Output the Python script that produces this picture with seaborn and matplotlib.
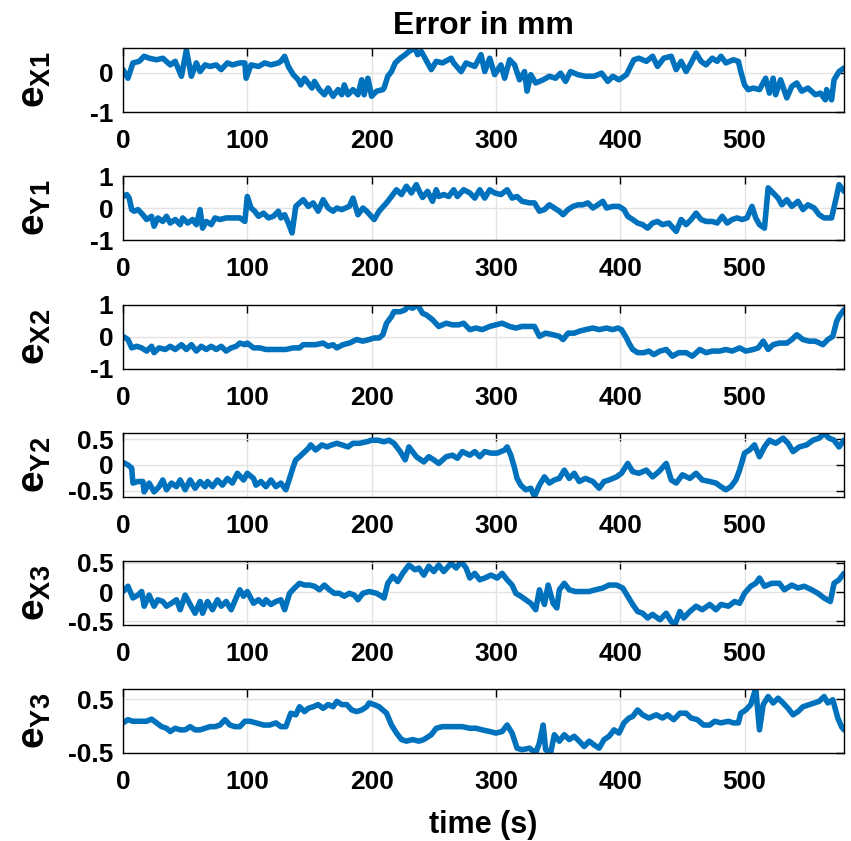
import matplotlib
matplotlib.use("Agg")
import matplotlib.pyplot as plt
from matplotlib.ticker import FormatStrFormatter
import seaborn as sns

# ---- time (s) / error (mm) traces for each coordinate ----
t_x1 = [0, 4, 8, 13, 17, 21, 27, 32, 38, 42, 47, 51, 55, 59, 62, 66, 70, 75, 79, 84, 88, 94, 98, 99,
        103, 109, 114, 119, 125, 127, 130, 133, 137, 141, 143, 146, 152, 154, 158, 162, 165, 169, 173,
        176, 178, 181, 185, 189, 192, 194, 197, 200, 204, 209, 210, 213, 216, 219, 223, 227, 230, 235,
        237, 240, 243, 245, 248, 252, 257, 264, 266, 272, 276, 283, 288, 291, 295, 299, 304, 307, 311,
        315, 319, 323, 325, 328, 332, 338, 343, 348, 352, 356, 360, 366, 372, 379, 385, 390, 394, 399,
        405, 407, 411, 415, 421, 426, 430, 435, 441, 445, 449, 453, 457, 461, 465, 469, 474, 478, 481,
        485, 491, 495, 497, 500, 503, 507, 512, 517, 520, 523, 525, 529, 534, 538, 542, 546, 551, 557,
        561, 565, 566, 570, 572, 576, 580]
e_x1 = [0.08, -0.14, 0.25, 0.29, 0.42, 0.37, 0.33, 0.37, 0.20, 0.29, -0.09, 0.58, -0.09, 0.25, 0.03, 0.20,
        0.16, 0.20, 0.08, 0.25, 0.20, 0.25, 0.25, -0.14, 0.20, 0.16, 0.25, 0.20, 0.25, 0.29, 0.42, 0.16,
        -0.05, -0.18, -0.31, -0.14, -0.39, -0.22, -0.43, -0.56, -0.39, -0.60, -0.43, -0.56, -0.31, -0.56,
        -0.43, -0.56, -0.18, -0.56, -0.14, -0.60, -0.47, -0.43, -0.39, -0.09, 0.03, 0.25, 0.37, 0.46, 0.54,
        0.63, 0.46, 0.54, 0.37, 0.25, 0.08, 0.29, 0.25, 0.37, 0.25, 0.03, 0.25, 0.16, 0.46, 0.03, 0.37,
        -0.05, 0.20, -0.14, 0.33, 0.20, -0.18, 0.03, -0.47, -0.05, -0.26, -0.18, -0.09, -0.14, -0.01, -0.22,
        0.03, -0.05, -0.09, -0.09, -0.01, -0.22, -0.09, -0.18, -0.05, 0.08, 0.33, 0.37, 0.29, 0.42, 0.16,
        0.37, 0.42, 0.08, 0.29, 0.03, 0.25, 0.50, 0.29, 0.20, 0.37, 0.29, 0.42, 0.25, 0.33, 0.29, 0.03,
        -0.31, -0.43, -0.39, -0.43, -0.14, -0.52, -0.14, -0.56, -0.18, -0.64, -0.35, -0.26, -0.47, -0.39,
        -0.56, -0.52, -0.69, -0.43, -0.69, -0.18, 0.03, 0.12]

t_y1 = [0, 3, 5, 7, 9, 12, 16, 19, 23, 25, 28, 32, 35, 38, 42, 46, 48, 52, 56, 59, 62, 64, 67, 71, 74, 78,
        83, 88, 94, 98, 100, 103, 106, 109, 113, 117, 121, 125, 127, 130, 133, 136, 139, 142, 145, 149,
        153, 157, 161, 165, 169, 172, 176, 182, 185, 189, 193, 196, 202, 206, 212, 216, 220, 224, 228,
        232, 236, 239, 241, 245, 249, 252, 254, 258, 262, 266, 269, 274, 279, 283, 287, 291, 295, 299,
        304, 309, 313, 317, 321, 327, 331, 335, 339, 343, 347, 351, 354, 358, 362, 366, 370, 374, 378,
        382, 386, 389, 394, 399, 403, 406, 410, 414, 418, 422, 426, 430, 434, 439, 445, 449, 453, 457,
        461, 465, 469, 474, 478, 482, 486, 490, 494, 498, 502, 506, 509, 512, 516, 519, 523, 527, 530,
        534, 538, 543, 547, 551, 556, 560, 564, 570, 574, 576, 580]
e_y1 = [0.36, 0.42, 0.31, -0.05, -0.10, -0.05, -0.21, -0.36, -0.26, -0.57, -0.31, -0.42, -0.26, -0.47,
        -0.36, -0.52, -0.31, -0.47, -0.36, -0.52, -0.05, -0.63, -0.42, -0.52, -0.31, -0.36, -0.31, -0.31,
        -0.31, -0.42, 0.36, 0.00, -0.10, -0.26, -0.16, -0.31, -0.26, -0.10, -0.31, -0.21, -0.47, -0.78,
        0.05, 0.16, 0.26, 0.05, 0.16, -0.10, 0.26, 0.00, -0.10, 0.00, -0.05, 0.05, 0.31, -0.21, 0.00,
        -0.10, -0.36, -0.10, 0.16, 0.36, 0.57, 0.42, 0.68, 0.47, 0.73, 0.47, 0.33, 0.52, 0.21, 0.57, 0.36,
        0.42, 0.36, 0.57, 0.36, 0.57, 0.47, 0.31, 0.57, 0.31, 0.57, 0.47, 0.42, 0.57, 0.31, 0.36, 0.21,
        0.16, 0.16, -0.10, -0.05, 0.10, 0.00, -0.10, -0.21, -0.05, 0.05, 0.10, 0.10, 0.16, 0.00, 0.10,
        0.21, 0.00, 0.05, 0.05, -0.05, -0.26, -0.36, -0.47, -0.52, -0.63, -0.47, -0.42, -0.52, -0.47,
        -0.73, -0.36, -0.52, -0.36, -0.16, -0.36, -0.42, -0.42, -0.47, -0.26, -0.47, -0.36, -0.31, -0.36,
        -0.31, 0.05, -0.31, -0.52, -0.63, 0.63, 0.47, 0.31, 0.10, 0.26, 0.05, 0.21, -0.05, 0.10, 0.00,
        -0.21, -0.31, -0.31, 0.36, 0.73, 0.52]

t_x2 = [0, 4, 7, 11, 15, 19, 23, 25, 29, 34, 38, 42, 47, 51, 55, 59, 63, 67, 71, 75, 79, 83, 87, 91, 94,
        98, 100, 105, 110, 115, 121, 126, 131, 137, 142, 145, 150, 155, 161, 165, 169, 172, 177, 182,
        188, 193, 198, 202, 206, 209, 212, 216, 218, 223, 227, 229, 233, 237, 241, 244, 249, 254, 260,
        265, 270, 274, 279, 284, 289, 295, 300, 305, 311, 316, 321, 327, 331, 335, 340, 346, 351, 354,
        358, 363, 367, 372, 378, 383, 389, 394, 398, 401, 405, 407, 410, 414, 419, 423, 427, 432, 437,
        442, 447, 453, 458, 464, 469, 474, 480, 485, 490, 496, 501, 507, 511, 515, 519, 523, 528, 534,
        538, 542, 547, 552, 557, 563, 567, 571, 574, 576, 580]
e_x2 = [0.02, -0.08, -0.34, -0.29, -0.34, -0.44, -0.29, -0.49, -0.34, -0.39, -0.29, -0.39, -0.24, -0.39,
        -0.24, -0.44, -0.29, -0.39, -0.29, -0.39, -0.29, -0.44, -0.34, -0.29, -0.19, -0.24, -0.19, -0.34,
        -0.34, -0.39, -0.39, -0.39, -0.39, -0.34, -0.34, -0.24, -0.24, -0.24, -0.19, -0.29, -0.24, -0.34,
        -0.24, -0.19, -0.08, -0.13, -0.08, -0.03, -0.03, 0.07, 0.43, 0.64, 0.79, 0.79, 0.85, 0.95, 0.90,
        1.00, 0.74, 0.69, 0.54, 0.33, 0.43, 0.38, 0.38, 0.43, 0.23, 0.28, 0.23, 0.33, 0.38, 0.43, 0.33,
        0.28, 0.33, 0.33, 0.33, 0.02, 0.12, 0.07, 0.02, -0.08, 0.12, 0.12, 0.18, 0.23, 0.28, 0.23, 0.28,
        0.23, 0.28, 0.23, -0.03, -0.19, -0.39, -0.49, -0.49, -0.44, -0.55, -0.44, -0.39, -0.60, -0.49,
        -0.49, -0.60, -0.39, -0.49, -0.44, -0.44, -0.39, -0.44, -0.34, -0.44, -0.39, -0.34, -0.13, -0.39,
        -0.24, -0.19, -0.19, -0.08, 0.07, -0.08, -0.13, -0.13, -0.24, -0.08, 0.02, 0.48, 0.64, 0.85]

t_y2 = [0, 4, 7, 8, 12, 16, 17, 21, 25, 29, 32, 35, 39, 43, 46, 50, 54, 58, 62, 66, 68, 72, 76, 80, 84,
        88, 92, 97, 100, 105, 107, 111, 115, 119, 123, 127, 131, 134, 137, 139, 142, 145, 149, 151, 155,
        160, 164, 168, 172, 176, 181, 185, 190, 196, 200, 205, 210, 214, 218, 223, 227, 230, 236, 242,
        246, 250, 254, 260, 265, 269, 273, 279, 283, 287, 291, 296, 301, 307, 309, 312, 315, 317, 320,
        324, 328, 331, 335, 339, 343, 347, 351, 355, 359, 363, 367, 372, 378, 383, 387, 391, 397, 401,
        406, 410, 415, 421, 426, 431, 437, 441, 445, 450, 456, 461, 466, 472, 477, 481, 485, 489, 493,
        496, 500, 504, 508, 512, 516, 520, 525, 531, 535, 539, 544, 550, 555, 560, 564, 568, 572, 576,
        580]
e_y2 = [0.05, 0.00, -0.06, -0.35, -0.32, -0.32, -0.52, -0.35, -0.52, -0.42, -0.29, -0.48, -0.35, -0.42,
        -0.29, -0.48, -0.29, -0.45, -0.32, -0.42, -0.32, -0.42, -0.29, -0.39, -0.26, -0.35, -0.16, -0.29,
        -0.16, -0.26, -0.39, -0.32, -0.42, -0.29, -0.42, -0.35, -0.48, -0.26, -0.03, 0.10, 0.16, 0.23,
        0.32, 0.39, 0.29, 0.39, 0.35, 0.39, 0.42, 0.39, 0.35, 0.42, 0.42, 0.45, 0.48, 0.48, 0.45, 0.48,
        0.42, 0.26, 0.10, 0.35, 0.16, 0.06, 0.16, 0.10, 0.03, 0.16, 0.19, 0.13, 0.26, 0.19, 0.26, 0.16,
        0.26, 0.23, 0.23, 0.29, 0.35, 0.19, -0.06, -0.26, -0.39, -0.48, -0.45, -0.61, -0.39, -0.23, -0.35,
        -0.29, -0.26, -0.10, -0.26, -0.16, -0.32, -0.26, -0.32, -0.45, -0.32, -0.29, -0.23, -0.16, 0.03,
        -0.13, -0.16, -0.10, -0.23, -0.13, 0.03, -0.29, -0.35, -0.19, -0.26, -0.16, -0.29, -0.32, -0.35,
        -0.42, -0.48, -0.42, -0.29, -0.10, 0.23, 0.29, 0.39, 0.16, 0.35, 0.48, 0.42, 0.52, 0.42, 0.26,
        0.35, 0.39, 0.48, 0.52, 0.61, 0.52, 0.48, 0.35, 0.48]

t_x3 = [0, 4, 8, 12, 15, 17, 21, 25, 28, 32, 35, 39, 43, 46, 50, 54, 58, 62, 64, 68, 72, 76, 79, 83, 87,
        91, 94, 97, 100, 105, 109, 113, 115, 119, 123, 127, 130, 134, 138, 142, 146, 150, 154, 158, 162,
        166, 170, 174, 178, 182, 186, 189, 193, 198, 204, 208, 210, 213, 217, 221, 225, 230, 235, 238,
        242, 246, 250, 254, 258, 264, 268, 272, 276, 279, 283, 287, 291, 296, 301, 305, 309, 313, 316,
        320, 324, 328, 332, 335, 339, 342, 346, 349, 351, 355, 359, 364, 370, 375, 380, 386, 391, 397,
        402, 406, 410, 414, 418, 422, 426, 432, 437, 441, 444, 448, 451, 456, 461, 466, 472, 477, 481,
        487, 492, 496, 500, 505, 509, 512, 516, 522, 528, 532, 538, 543, 548, 554, 559, 564, 569, 572,
        576, 580]
e_x3 = [0.01, 0.10, -0.10, -0.05, 0.01, -0.24, -0.05, -0.24, -0.13, -0.16, -0.24, -0.19, -0.13, -0.30,
        -0.05, -0.21, -0.36, -0.16, -0.36, -0.16, -0.30, -0.13, -0.24, -0.16, -0.30, -0.10, 0.04, -0.07,
        0.01, -0.19, -0.13, -0.21, -0.13, -0.21, -0.16, -0.13, -0.30, -0.02, 0.07, 0.15, 0.12, 0.12, 0.10,
        0.04, 0.12, 0.04, -0.02, -0.02, -0.07, -0.02, -0.05, -0.13, -0.02, 0.01, -0.02, -0.07, -0.10, 0.15,
        0.27, 0.18, 0.32, 0.46, 0.38, 0.41, 0.29, 0.44, 0.35, 0.46, 0.35, 0.49, 0.41, 0.52, 0.41, 0.24,
        0.32, 0.21, 0.24, 0.29, 0.24, 0.32, 0.21, 0.12, -0.02, -0.07, -0.13, -0.19, -0.30, 0.04, -0.21,
        0.12, -0.19, -0.27, 0.04, 0.15, 0.04, 0.01, 0.01, 0.01, 0.04, 0.07, 0.12, 0.12, 0.07, -0.07, -0.21,
        -0.33, -0.36, -0.44, -0.38, -0.47, -0.36, -0.50, -0.55, -0.33, -0.44, -0.33, -0.24, -0.30, -0.21,
        -0.30, -0.21, -0.24, -0.16, -0.19, -0.02, 0.10, 0.15, 0.24, 0.10, 0.15, 0.15, 0.04, 0.12, 0.07,
        0.10, 0.04, -0.02, -0.10, -0.16, 0.15, 0.21, 0.32]

t_y3 = [0, 4, 8, 13, 19, 23, 27, 31, 35, 38, 42, 46, 50, 54, 58, 62, 66, 70, 74, 78, 82, 86, 90, 94, 98,
        102, 107, 113, 118, 123, 127, 131, 135, 139, 142, 146, 149, 153, 157, 161, 165, 169, 172, 176,
        180, 184, 188, 192, 196, 198, 202, 206, 212, 216, 220, 224, 228, 233, 238, 242, 248, 252, 257,
        262, 268, 273, 279, 284, 289, 295, 300, 305, 309, 313, 317, 321, 327, 332, 335, 338, 340, 344,
        347, 351, 355, 359, 363, 367, 371, 375, 379, 383, 387, 391, 395, 399, 403, 407, 410, 414, 418,
        423, 429, 434, 438, 443, 448, 453, 457, 462, 467, 472, 476, 481, 487, 491, 495, 497, 501, 505,
        509, 512, 515, 519, 523, 527, 531, 535, 539, 543, 547, 552, 556, 560, 564, 567, 571, 575, 578,
        580]
e_y3 = [0.06, 0.12, 0.09, 0.09, 0.09, 0.13, 0.06, -0.01, -0.04, -0.10, -0.04, -0.07, -0.07, -0.01, -0.07,
        -0.07, -0.04, -0.01, -0.01, 0.02, 0.12, 0.02, -0.01, -0.01, 0.09, 0.09, 0.06, 0.02, 0.02, 0.06,
        -0.01, -0.01, 0.24, 0.21, 0.36, 0.27, 0.33, 0.36, 0.40, 0.33, 0.40, 0.36, 0.46, 0.40, 0.40, 0.30,
        0.27, 0.30, 0.36, 0.43, 0.40, 0.36, 0.24, 0.02, -0.13, -0.25, -0.28, -0.25, -0.28, -0.25, -0.16,
        -0.04, -0.01, -0.01, -0.01, -0.01, -0.04, -0.04, -0.07, -0.10, -0.13, -0.10, 0.02, -0.13, -0.41,
        -0.44, -0.41, -0.50, -0.31, 0.02, -0.44, -0.50, -0.16, -0.28, -0.16, -0.25, -0.19, -0.28, -0.38,
        -0.28, -0.35, -0.41, -0.25, -0.19, -0.07, -0.13, 0.06, 0.15, 0.18, 0.30, 0.21, 0.15, 0.21, 0.15,
        0.21, 0.12, 0.24, 0.24, 0.15, 0.12, 0.02, 0.02, 0.09, 0.06, 0.09, 0.06, 0.06, 0.24, 0.30, 0.40,
        0.70, -0.07, 0.40, 0.55, 0.43, 0.52, 0.43, 0.33, 0.21, 0.27, 0.36, 0.40, 0.43, 0.46, 0.55, 0.43,
        0.49, 0.15, -0.01, -0.07]

labels = [r"$e_{X1}$", r"$e_{Y1}$", r"$e_{X2}$", r"$e_{Y2}$", r"$e_{X3}$", r"$e_{Y3}$"]
times = [t_x1, t_y1, t_x2, t_y2, t_x3, t_y3]
errors = [e_x1, e_y1, e_x2, e_y2, e_x3, e_y3]
y_limits = [(-1, 0.63), (-1, 1), (-1, 1), (-0.62, 0.62), (-0.56, 0.53), (-0.5, 0.69)]
y_ticks = [[-1, 0], [-1, 0, 1], [-1, 0, 1], [-0.5, 0, 0.5], [-0.5, 0, 0.5], [-0.5, 0.5]]
x_ticks = [0, 100, 200, 300, 400, 500]

sns.set_theme(style="white")
plt.rcParams.update({
    "font.family": ["Liberation Sans", "DejaVu Sans"],
    "font.weight": "bold",
    "text.color": "black",
    "axes.labelcolor": "black",
    "xtick.color": "black",
    "ytick.color": "black",
    "axes.unicode_minus": False,
    "mathtext.fontset": "custom",
    "mathtext.rm": "Liberation Sans:bold",
    "mathtext.it": "Liberation Sans:bold",
    "mathtext.bf": "Liberation Sans:bold",
    "mathtext.default": "bf",
})

W, H = 851, 841
fig = plt.figure(figsize=(W / 100, H / 100), dpi=100)
fig.patch.set_facecolor("white")

left_px, width_px, height_px = 123, 721, 64
tops_px = [48, 176, 305, 433, 561, 689]
line_color = "#0072BD"

axes = []
for i in range(6):
    ax = fig.add_axes([left_px / W, 1 - (tops_px[i] + height_px) / H, width_px / W, height_px / H])
    sns.lineplot(x=times[i], y=errors[i], ax=ax, color=line_color, linewidth=4.0,
                 estimator=None, sort=False)
    ax.lines[0].set_solid_joinstyle("round")
    ax.lines[0].set_solid_capstyle("round")
    ax.set_xlim(0, 580)
    ax.set_ylim(*y_limits[i])
    ax.set_xticks(x_ticks)
    ax.set_yticks(y_ticks[i])
    ax.yaxis.set_major_formatter(FormatStrFormatter("%g"))
    ax.set_axisbelow(True)
    ax.grid(True, color="#e3e3e3", linewidth=1.0)
    ax.tick_params(direction="in", top=True, right=True, length=6, width=1.0,
                   color="black", labelcolor="black", labelsize=19)
    ax.tick_params(axis="x", pad=12)
    ax.tick_params(axis="y", pad=7)
    for s in ax.spines.values():
        s.set_color("black")
        s.set_linewidth(1.0)
    ax.set_ylabel(labels[i], fontsize=28, color="black")
    ax.yaxis.set_label_coords(-0.097, 0.5)
    axes.append(ax)

axes[0].set_title("Error in mm", fontsize=23, fontweight="bold", color="black", pad=10)
axes[-1].set_xlabel("time (s)", fontsize=22, fontweight="bold", color="black", labelpad=12)

fig.savefig("out.png", dpi=100, facecolor="white")
